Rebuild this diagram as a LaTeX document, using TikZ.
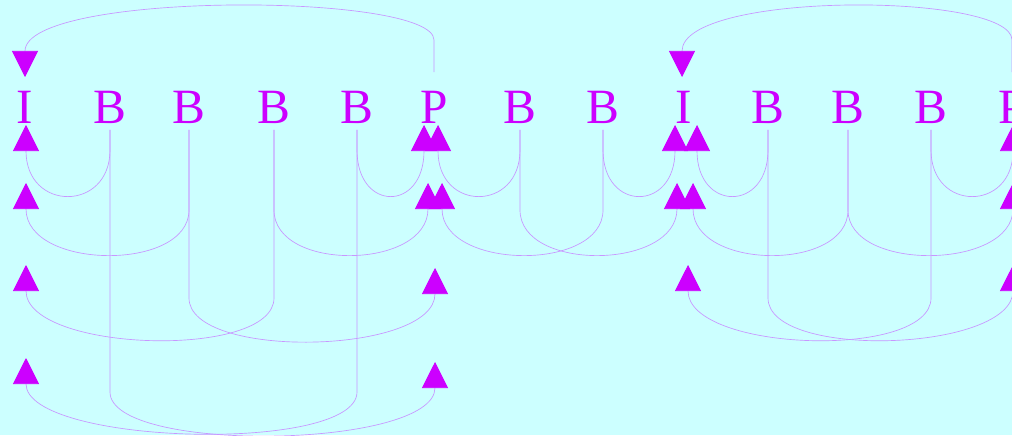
\documentclass[tikz,border=0pt]{standalone}
\usepackage{fontspec}
\setmainfont{Liberation Serif}
\usetikzlibrary{arrows.meta}
\usepackage{xcolor}

\definecolor{framecol}{HTML}{CC00FF}
\definecolor{linkcol}{RGB}{200,150,255}
\definecolor{bgcol}{HTML}{CCFFFF}

\begin{document}
\begin{tikzpicture}[x=0.75pt, y=-0.75pt,
	frame/.style={text=framecol, font=\fontsize{37}{37}\selectfont, inner sep=0pt, outer sep=5pt, anchor=base},
	ref/.style={draw=linkcol, line width=0.5pt, -{Triangle[length=19.5pt, width=19.5pt, color=framecol]}}]
	\fill[bgcol] (0,0) rectangle (1012,435);
	\useasboundingbox (0,0) rectangle (1012,435);
	
	% frames
	\node[frame] (i0) at (25,123) {I};
	\node[frame] (b1) at (110,123) {B};
	\node[frame] (b2) at (189,123) {B};
	\node[frame] (b3) at (274,123) {B};
	\node[frame] (b4) at (357,123) {B};
	\node[frame] (p5) at (434,123) {P};
	\node[frame] (b6) at (520,123) {B};
	\node[frame] (b7) at (603,123) {B};
	\node[frame] (i8) at (684,123) {I};
	\node[frame] (b9) at (768,123) {B};
	\node[frame] (b10) at (848,123) {B};
	\node[frame] (b11) at (931,123) {B};
	\node[frame] (p12) at (1012,123) {P};
	
	% rows where the curves leave the stems
	\coordinate (r1) at (0,150);
	\coordinate (r2) at (0,210);
	\coordinate (r3) at (0,298);
	\coordinate (r4) at (0,392);
	
	% arrow tips under the anchors
	\coordinate (i0r1) at (26,125);
	\coordinate (i0r2) at (26,183);
	\coordinate (i0r3) at (26,265);
	\coordinate (i0r4) at (26,358);
	\coordinate (p5r1a) at (424,125);
	\coordinate (p5r1b) at (438,125);
	\coordinate (p5r2a) at (428,183);
	\coordinate (p5r2b) at (442,183);
	\coordinate (p5r3) at (435,268);
	\coordinate (p5r4) at (435,362);
	\coordinate (i8r1a) at (675,125);
	\coordinate (i8r1b) at (697,125);
	\coordinate (i8r2a) at (677,183);
	\coordinate (i8r2b) at (693,183);
	\coordinate (i8r3) at (688,265);
	\coordinate (p12r1) at (1013,125);
	\coordinate (p12r2) at (1013,183);
	\coordinate (p12r3) at (1013,265);
	\coordinate (i0top) at (25,77);
	\coordinate (i8top) at (682,77);
	
	% P frames predicted from the I before them
	\draw[ref] ([yshift=9pt]p5.north) -- ++(0,-32) .. controls +(0,-48) and +(0,-86) .. (i0top);
	\draw[ref] ([yshift=9pt]p12.north) -- ++(0,-32) .. controls +(0,-48) and +(0,-86) .. (i8top);
	
	% First group of B frames
	\draw[ref] (b1.south) -- (b1 |- r1) .. controls +(0,62) and +(0,87) .. (i0r1);
	\draw[ref] (b1.south) -- (b1 |- r4) .. controls +(0,62) and +(0,87) .. (p5r4);
	\draw[ref] (b2.south) -- (b2 |- r2) .. controls +(0,62) and +(0,87) .. (i0r2);
	\draw[ref] (b2.south) -- (b2 |- r3) .. controls +(0,62) and +(0,87) .. (p5r3);
	\draw[ref] (b3.south) -- (b3 |- r3) .. controls +(0,62) and +(0,87) .. (i0r3);
	\draw[ref] (b3.south) -- (b3 |- r2) .. controls +(0,62) and +(0,87) .. (p5r2a);
	\draw[ref] (b4.south) -- (b4 |- r4) .. controls +(0,62) and +(0,87) .. (i0r4);
	\draw[ref] (b4.south) -- (b4 |- r1) .. controls +(0,62) and +(0,87) .. (p5r1a);
	
	% Second group of B frames
	\draw[ref] (b6.south) -- (b6 |- r1) .. controls +(0,62) and +(0,87) .. (p5r1b);
	\draw[ref] (b6.south) -- (b6 |- r2) .. controls +(0,62) and +(0,87) .. (i8r2a);
	\draw[ref] (b7.south) -- (b7 |- r2) .. controls +(0,62) and +(0,87) .. (p5r2b);
	\draw[ref] (b7.south) -- (b7 |- r1) .. controls +(0,62) and +(0,87) .. (i8r1a);
	
	% Third group of B frames
	\draw[ref] (b9.south) -- (b9 |- r1) .. controls +(0,62) and +(0,87) .. (i8r1b);
	\draw[ref] (b9.south) -- (b9 |- r3) .. controls +(0,62) and +(0,87) .. (p12r3);
	\draw[ref] (b10.south) -- (b10 |- r2) .. controls +(0,62) and +(0,87) .. (i8r2b);
	\draw[ref] (b10.south) -- (b10 |- r2) .. controls +(0,62) and +(0,87) .. (p12r2);
	\draw[ref] (b11.south) -- (b11 |- r3) .. controls +(0,62) and +(0,87) .. (i8r3);
	\draw[ref] (b11.south) -- (b11 |- r1) .. controls +(0,62) and +(0,87) .. (p12r1);
	
\end{tikzpicture}
\end{document}
